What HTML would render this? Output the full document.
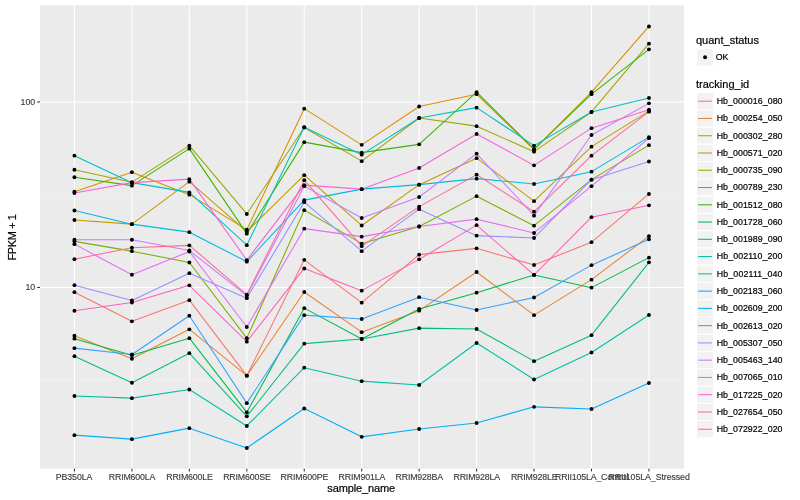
<!DOCTYPE html><html><head><meta charset="utf-8"><title>plot</title><style>html,body{margin:0;padding:0;background:#fff}svg{display:block;will-change:transform}text{font-family:"Liberation Sans",sans-serif}.k{stroke:#000;stroke-width:.2px}.a text{stroke:#3d3d3d;stroke-width:.15px}</style></head><body>
<svg width="800" height="500" viewBox="0 0 800 500">
<rect x="0" y="0" width="800" height="500" fill="#fff"/>
<rect x="40.0" y="5.3" width="644.0" height="463.4" fill="#EBEBEB"/>
<line x1="40.0" x2="684.0" y1="9.2" y2="9.2" stroke="#F2F2F2" stroke-width="0.6"/>
<line x1="40.0" x2="684.0" y1="194.55" y2="194.55" stroke="#F2F2F2" stroke-width="0.6"/>
<line x1="40.0" x2="684.0" y1="380.1" y2="380.1" stroke="#F2F2F2" stroke-width="0.6"/>
<line x1="40.0" x2="684.0" y1="102.0" y2="102.0" stroke="#fff" stroke-width="1.07"/>
<line x1="40.0" x2="684.0" y1="287.45" y2="287.45" stroke="#fff" stroke-width="1.07"/>
<line x1="74.45" x2="74.45" y1="5.3" y2="468.7" stroke="#fff" stroke-width="1.07"/>
<line x1="131.90" x2="131.90" y1="5.3" y2="468.7" stroke="#fff" stroke-width="1.07"/>
<line x1="189.35" x2="189.35" y1="5.3" y2="468.7" stroke="#fff" stroke-width="1.07"/>
<line x1="246.80" x2="246.80" y1="5.3" y2="468.7" stroke="#fff" stroke-width="1.07"/>
<line x1="304.25" x2="304.25" y1="5.3" y2="468.7" stroke="#fff" stroke-width="1.07"/>
<line x1="361.70" x2="361.70" y1="5.3" y2="468.7" stroke="#fff" stroke-width="1.07"/>
<line x1="419.15" x2="419.15" y1="5.3" y2="468.7" stroke="#fff" stroke-width="1.07"/>
<line x1="476.60" x2="476.60" y1="5.3" y2="468.7" stroke="#fff" stroke-width="1.07"/>
<line x1="534.05" x2="534.05" y1="5.3" y2="468.7" stroke="#fff" stroke-width="1.07"/>
<line x1="591.50" x2="591.50" y1="5.3" y2="468.7" stroke="#fff" stroke-width="1.07"/>
<line x1="648.95" x2="648.95" y1="5.3" y2="468.7" stroke="#fff" stroke-width="1.07"/>
<polyline points="74.45,292.15 131.90,321.35 189.35,300.15 246.80,375.65 304.25,259.85 361.70,302.65 419.15,254.65 476.60,248.35 534.05,264.95 591.50,242.15 648.95,193.95" fill="none" stroke="#F8766D" stroke-width="1.07" stroke-linejoin="round"/>
<polyline points="74.45,335.75 131.90,358.75 189.35,329.35 246.80,375.65 304.25,291.95 361.70,332.15 419.15,310.65 476.60,271.95 534.05,315.15 591.50,279.65 648.95,236.15" fill="none" stroke="#EA8331" stroke-width="1.07" stroke-linejoin="round"/>
<polyline points="74.45,191.65 131.90,172.15 189.35,194.65 246.80,229.65 304.25,108.65 361.70,144.85 419.15,106.45 476.60,94.15 534.05,149.65 591.50,92.15 648.95,26.45" fill="none" stroke="#D89000" stroke-width="1.07" stroke-linejoin="round"/>
<polyline points="74.45,219.95 131.90,224.15 189.35,181.65 246.80,231.65 304.25,175.15 361.70,225.45 419.15,184.65 476.60,158.15 534.05,201.15 591.50,146.65 648.95,111.15" fill="none" stroke="#C09B00" stroke-width="1.07" stroke-linejoin="round"/>
<polyline points="74.45,169.75 131.90,182.15 189.35,145.65 246.80,213.95 304.25,127.45 361.70,161.15 419.15,117.95 476.60,126.15 534.05,151.65 591.50,111.95 648.95,43.65" fill="none" stroke="#A3A500" stroke-width="1.07" stroke-linejoin="round"/>
<polyline points="74.45,241.35 131.90,251.15 189.35,262.55 246.80,338.15 304.25,210.15 361.70,243.65 419.15,226.45 476.60,196.15 534.05,225.65 591.50,179.65 648.95,145.15" fill="none" stroke="#7CAE00" stroke-width="1.07" stroke-linejoin="round"/>
<polyline points="74.45,177.25 131.90,185.65 189.35,148.65 246.80,233.65 304.25,142.15 361.70,152.65 419.15,144.35 476.60,92.15 534.05,149.15 591.50,94.15 648.95,49.35" fill="none" stroke="#39B600" stroke-width="1.07" stroke-linejoin="round"/>
<polyline points="74.45,338.65 131.90,355.15 189.35,338.15 246.80,412.35 304.25,308.15 361.70,338.95 419.15,308.95 476.60,292.65 534.05,274.95 591.50,287.65 648.95,257.65" fill="none" stroke="#00BB4E" stroke-width="1.07" stroke-linejoin="round"/>
<polyline points="74.45,356.15 131.90,382.75 189.35,353.15 246.80,416.35 304.25,343.65 361.70,338.95 419.15,328.15 476.60,328.95 534.05,361.15 591.50,335.15 648.95,262.35" fill="none" stroke="#00BF7D" stroke-width="1.07" stroke-linejoin="round"/>
<polyline points="74.45,396.05 131.90,398.15 189.35,389.55 246.80,425.95 304.25,367.65 361.70,381.15 419.15,384.95 476.60,342.95 534.05,379.45 591.50,352.45 648.95,314.95" fill="none" stroke="#00C1A3" stroke-width="1.07" stroke-linejoin="round"/>
<polyline points="74.45,155.65 131.90,182.65 189.35,192.35 246.80,245.15 304.25,127.15 361.70,154.65 419.15,117.95 476.60,107.65 534.05,145.65 591.50,111.95 648.95,97.95" fill="none" stroke="#00BFC4" stroke-width="1.07" stroke-linejoin="round"/>
<polyline points="74.45,210.55 131.90,224.15 189.35,232.15 246.80,261.65 304.25,200.15 361.70,189.15 419.15,184.65 476.60,178.65 534.05,183.95 591.50,171.65 648.95,137.15" fill="none" stroke="#00BAE0" stroke-width="1.07" stroke-linejoin="round"/>
<polyline points="74.45,435.15 131.90,439.15 189.35,428.15 246.80,447.95 304.25,408.45 361.70,436.85 419.15,428.95 476.60,422.95 534.05,406.85 591.50,408.95 648.95,382.95" fill="none" stroke="#00B0F6" stroke-width="1.07" stroke-linejoin="round"/>
<polyline points="74.45,348.15 131.90,354.55 189.35,315.75 246.80,403.15 304.25,315.15 361.70,318.95 419.15,297.15 476.60,309.95 534.05,297.45 591.50,265.15 648.95,239.35" fill="none" stroke="#35A2FF" stroke-width="1.07" stroke-linejoin="round"/>
<polyline points="74.45,285.15 131.90,300.55 189.35,273.15 246.80,298.15 304.25,202.15 361.70,251.15 419.15,209.15 476.60,235.65 534.05,237.95 591.50,179.65 648.95,161.45" fill="none" stroke="#9590FF" stroke-width="1.07" stroke-linejoin="round"/>
<polyline points="74.45,239.75 131.90,239.75 189.35,250.55 246.80,295.65 304.25,186.15 361.70,217.95 419.15,196.95 476.60,153.65 534.05,215.65 591.50,134.95 648.95,103.35" fill="none" stroke="#C77CFF" stroke-width="1.07" stroke-linejoin="round"/>
<polyline points="74.45,244.15 131.90,274.75 189.35,251.55 246.80,326.95 304.25,228.65 361.70,236.65 419.15,226.45 476.60,219.15 534.05,232.95 591.50,186.15 648.95,138.15" fill="none" stroke="#E76BF3" stroke-width="1.07" stroke-linejoin="round"/>
<polyline points="74.45,192.95 131.90,182.65 189.35,179.15 246.80,260.15 304.25,185.15 361.70,189.15 419.15,167.95 476.60,133.95 534.05,165.35 591.50,128.15 648.95,109.65" fill="none" stroke="#FA62DB" stroke-width="1.07" stroke-linejoin="round"/>
<polyline points="74.45,310.75 131.90,302.55 189.35,285.35 246.80,341.65 304.25,268.45 361.70,290.65 419.15,259.35 476.60,225.15 534.05,274.95 591.50,217.15 648.95,205.35" fill="none" stroke="#FF62BC" stroke-width="1.07" stroke-linejoin="round"/>
<polyline points="74.45,259.15 131.90,247.75 189.35,245.35 246.80,294.65 304.25,180.15 361.70,246.15 419.15,206.65 476.60,174.65 534.05,211.65 591.50,155.65 648.95,111.65" fill="none" stroke="#FF6A98" stroke-width="1.07" stroke-linejoin="round"/>
<g fill="#000">
<circle cx="74.45" cy="292.15" r="1.95"/>
<circle cx="131.90" cy="321.35" r="1.95"/>
<circle cx="189.35" cy="300.15" r="1.95"/>
<circle cx="246.80" cy="375.65" r="1.95"/>
<circle cx="304.25" cy="259.85" r="1.95"/>
<circle cx="361.70" cy="302.65" r="1.95"/>
<circle cx="419.15" cy="254.65" r="1.95"/>
<circle cx="476.60" cy="248.35" r="1.95"/>
<circle cx="534.05" cy="264.95" r="1.95"/>
<circle cx="591.50" cy="242.15" r="1.95"/>
<circle cx="648.95" cy="193.95" r="1.95"/>
<circle cx="74.45" cy="335.75" r="1.95"/>
<circle cx="131.90" cy="358.75" r="1.95"/>
<circle cx="189.35" cy="329.35" r="1.95"/>
<circle cx="246.80" cy="375.65" r="1.95"/>
<circle cx="304.25" cy="291.95" r="1.95"/>
<circle cx="361.70" cy="332.15" r="1.95"/>
<circle cx="419.15" cy="310.65" r="1.95"/>
<circle cx="476.60" cy="271.95" r="1.95"/>
<circle cx="534.05" cy="315.15" r="1.95"/>
<circle cx="591.50" cy="279.65" r="1.95"/>
<circle cx="648.95" cy="236.15" r="1.95"/>
<circle cx="74.45" cy="191.65" r="1.95"/>
<circle cx="131.90" cy="172.15" r="1.95"/>
<circle cx="189.35" cy="194.65" r="1.95"/>
<circle cx="246.80" cy="229.65" r="1.95"/>
<circle cx="304.25" cy="108.65" r="1.95"/>
<circle cx="361.70" cy="144.85" r="1.95"/>
<circle cx="419.15" cy="106.45" r="1.95"/>
<circle cx="476.60" cy="94.15" r="1.95"/>
<circle cx="534.05" cy="149.65" r="1.95"/>
<circle cx="591.50" cy="92.15" r="1.95"/>
<circle cx="648.95" cy="26.45" r="1.95"/>
<circle cx="74.45" cy="219.95" r="1.95"/>
<circle cx="131.90" cy="224.15" r="1.95"/>
<circle cx="189.35" cy="181.65" r="1.95"/>
<circle cx="246.80" cy="231.65" r="1.95"/>
<circle cx="304.25" cy="175.15" r="1.95"/>
<circle cx="361.70" cy="225.45" r="1.95"/>
<circle cx="419.15" cy="184.65" r="1.95"/>
<circle cx="476.60" cy="158.15" r="1.95"/>
<circle cx="534.05" cy="201.15" r="1.95"/>
<circle cx="591.50" cy="146.65" r="1.95"/>
<circle cx="648.95" cy="111.15" r="1.95"/>
<circle cx="74.45" cy="169.75" r="1.95"/>
<circle cx="131.90" cy="182.15" r="1.95"/>
<circle cx="189.35" cy="145.65" r="1.95"/>
<circle cx="246.80" cy="213.95" r="1.95"/>
<circle cx="304.25" cy="127.45" r="1.95"/>
<circle cx="361.70" cy="161.15" r="1.95"/>
<circle cx="419.15" cy="117.95" r="1.95"/>
<circle cx="476.60" cy="126.15" r="1.95"/>
<circle cx="534.05" cy="151.65" r="1.95"/>
<circle cx="591.50" cy="111.95" r="1.95"/>
<circle cx="648.95" cy="43.65" r="1.95"/>
<circle cx="74.45" cy="241.35" r="1.95"/>
<circle cx="131.90" cy="251.15" r="1.95"/>
<circle cx="189.35" cy="262.55" r="1.95"/>
<circle cx="246.80" cy="338.15" r="1.95"/>
<circle cx="304.25" cy="210.15" r="1.95"/>
<circle cx="361.70" cy="243.65" r="1.95"/>
<circle cx="419.15" cy="226.45" r="1.95"/>
<circle cx="476.60" cy="196.15" r="1.95"/>
<circle cx="534.05" cy="225.65" r="1.95"/>
<circle cx="591.50" cy="179.65" r="1.95"/>
<circle cx="648.95" cy="145.15" r="1.95"/>
<circle cx="74.45" cy="177.25" r="1.95"/>
<circle cx="131.90" cy="185.65" r="1.95"/>
<circle cx="189.35" cy="148.65" r="1.95"/>
<circle cx="246.80" cy="233.65" r="1.95"/>
<circle cx="304.25" cy="142.15" r="1.95"/>
<circle cx="361.70" cy="152.65" r="1.95"/>
<circle cx="419.15" cy="144.35" r="1.95"/>
<circle cx="476.60" cy="92.15" r="1.95"/>
<circle cx="534.05" cy="149.15" r="1.95"/>
<circle cx="591.50" cy="94.15" r="1.95"/>
<circle cx="648.95" cy="49.35" r="1.95"/>
<circle cx="74.45" cy="338.65" r="1.95"/>
<circle cx="131.90" cy="355.15" r="1.95"/>
<circle cx="189.35" cy="338.15" r="1.95"/>
<circle cx="246.80" cy="412.35" r="1.95"/>
<circle cx="304.25" cy="308.15" r="1.95"/>
<circle cx="361.70" cy="338.95" r="1.95"/>
<circle cx="419.15" cy="308.95" r="1.95"/>
<circle cx="476.60" cy="292.65" r="1.95"/>
<circle cx="534.05" cy="274.95" r="1.95"/>
<circle cx="591.50" cy="287.65" r="1.95"/>
<circle cx="648.95" cy="257.65" r="1.95"/>
<circle cx="74.45" cy="356.15" r="1.95"/>
<circle cx="131.90" cy="382.75" r="1.95"/>
<circle cx="189.35" cy="353.15" r="1.95"/>
<circle cx="246.80" cy="416.35" r="1.95"/>
<circle cx="304.25" cy="343.65" r="1.95"/>
<circle cx="361.70" cy="338.95" r="1.95"/>
<circle cx="419.15" cy="328.15" r="1.95"/>
<circle cx="476.60" cy="328.95" r="1.95"/>
<circle cx="534.05" cy="361.15" r="1.95"/>
<circle cx="591.50" cy="335.15" r="1.95"/>
<circle cx="648.95" cy="262.35" r="1.95"/>
<circle cx="74.45" cy="396.05" r="1.95"/>
<circle cx="131.90" cy="398.15" r="1.95"/>
<circle cx="189.35" cy="389.55" r="1.95"/>
<circle cx="246.80" cy="425.95" r="1.95"/>
<circle cx="304.25" cy="367.65" r="1.95"/>
<circle cx="361.70" cy="381.15" r="1.95"/>
<circle cx="419.15" cy="384.95" r="1.95"/>
<circle cx="476.60" cy="342.95" r="1.95"/>
<circle cx="534.05" cy="379.45" r="1.95"/>
<circle cx="591.50" cy="352.45" r="1.95"/>
<circle cx="648.95" cy="314.95" r="1.95"/>
<circle cx="74.45" cy="155.65" r="1.95"/>
<circle cx="131.90" cy="182.65" r="1.95"/>
<circle cx="189.35" cy="192.35" r="1.95"/>
<circle cx="246.80" cy="245.15" r="1.95"/>
<circle cx="304.25" cy="127.15" r="1.95"/>
<circle cx="361.70" cy="154.65" r="1.95"/>
<circle cx="419.15" cy="117.95" r="1.95"/>
<circle cx="476.60" cy="107.65" r="1.95"/>
<circle cx="534.05" cy="145.65" r="1.95"/>
<circle cx="591.50" cy="111.95" r="1.95"/>
<circle cx="648.95" cy="97.95" r="1.95"/>
<circle cx="74.45" cy="210.55" r="1.95"/>
<circle cx="131.90" cy="224.15" r="1.95"/>
<circle cx="189.35" cy="232.15" r="1.95"/>
<circle cx="246.80" cy="261.65" r="1.95"/>
<circle cx="304.25" cy="200.15" r="1.95"/>
<circle cx="361.70" cy="189.15" r="1.95"/>
<circle cx="419.15" cy="184.65" r="1.95"/>
<circle cx="476.60" cy="178.65" r="1.95"/>
<circle cx="534.05" cy="183.95" r="1.95"/>
<circle cx="591.50" cy="171.65" r="1.95"/>
<circle cx="648.95" cy="137.15" r="1.95"/>
<circle cx="74.45" cy="435.15" r="1.95"/>
<circle cx="131.90" cy="439.15" r="1.95"/>
<circle cx="189.35" cy="428.15" r="1.95"/>
<circle cx="246.80" cy="447.95" r="1.95"/>
<circle cx="304.25" cy="408.45" r="1.95"/>
<circle cx="361.70" cy="436.85" r="1.95"/>
<circle cx="419.15" cy="428.95" r="1.95"/>
<circle cx="476.60" cy="422.95" r="1.95"/>
<circle cx="534.05" cy="406.85" r="1.95"/>
<circle cx="591.50" cy="408.95" r="1.95"/>
<circle cx="648.95" cy="382.95" r="1.95"/>
<circle cx="74.45" cy="348.15" r="1.95"/>
<circle cx="131.90" cy="354.55" r="1.95"/>
<circle cx="189.35" cy="315.75" r="1.95"/>
<circle cx="246.80" cy="403.15" r="1.95"/>
<circle cx="304.25" cy="315.15" r="1.95"/>
<circle cx="361.70" cy="318.95" r="1.95"/>
<circle cx="419.15" cy="297.15" r="1.95"/>
<circle cx="476.60" cy="309.95" r="1.95"/>
<circle cx="534.05" cy="297.45" r="1.95"/>
<circle cx="591.50" cy="265.15" r="1.95"/>
<circle cx="648.95" cy="239.35" r="1.95"/>
<circle cx="74.45" cy="285.15" r="1.95"/>
<circle cx="131.90" cy="300.55" r="1.95"/>
<circle cx="189.35" cy="273.15" r="1.95"/>
<circle cx="246.80" cy="298.15" r="1.95"/>
<circle cx="304.25" cy="202.15" r="1.95"/>
<circle cx="361.70" cy="251.15" r="1.95"/>
<circle cx="419.15" cy="209.15" r="1.95"/>
<circle cx="476.60" cy="235.65" r="1.95"/>
<circle cx="534.05" cy="237.95" r="1.95"/>
<circle cx="591.50" cy="179.65" r="1.95"/>
<circle cx="648.95" cy="161.45" r="1.95"/>
<circle cx="74.45" cy="239.75" r="1.95"/>
<circle cx="131.90" cy="239.75" r="1.95"/>
<circle cx="189.35" cy="250.55" r="1.95"/>
<circle cx="246.80" cy="295.65" r="1.95"/>
<circle cx="304.25" cy="186.15" r="1.95"/>
<circle cx="361.70" cy="217.95" r="1.95"/>
<circle cx="419.15" cy="196.95" r="1.95"/>
<circle cx="476.60" cy="153.65" r="1.95"/>
<circle cx="534.05" cy="215.65" r="1.95"/>
<circle cx="591.50" cy="134.95" r="1.95"/>
<circle cx="648.95" cy="103.35" r="1.95"/>
<circle cx="74.45" cy="244.15" r="1.95"/>
<circle cx="131.90" cy="274.75" r="1.95"/>
<circle cx="189.35" cy="251.55" r="1.95"/>
<circle cx="246.80" cy="326.95" r="1.95"/>
<circle cx="304.25" cy="228.65" r="1.95"/>
<circle cx="361.70" cy="236.65" r="1.95"/>
<circle cx="419.15" cy="226.45" r="1.95"/>
<circle cx="476.60" cy="219.15" r="1.95"/>
<circle cx="534.05" cy="232.95" r="1.95"/>
<circle cx="591.50" cy="186.15" r="1.95"/>
<circle cx="648.95" cy="138.15" r="1.95"/>
<circle cx="74.45" cy="192.95" r="1.95"/>
<circle cx="131.90" cy="182.65" r="1.95"/>
<circle cx="189.35" cy="179.15" r="1.95"/>
<circle cx="246.80" cy="260.15" r="1.95"/>
<circle cx="304.25" cy="185.15" r="1.95"/>
<circle cx="361.70" cy="189.15" r="1.95"/>
<circle cx="419.15" cy="167.95" r="1.95"/>
<circle cx="476.60" cy="133.95" r="1.95"/>
<circle cx="534.05" cy="165.35" r="1.95"/>
<circle cx="591.50" cy="128.15" r="1.95"/>
<circle cx="648.95" cy="109.65" r="1.95"/>
<circle cx="74.45" cy="310.75" r="1.95"/>
<circle cx="131.90" cy="302.55" r="1.95"/>
<circle cx="189.35" cy="285.35" r="1.95"/>
<circle cx="246.80" cy="341.65" r="1.95"/>
<circle cx="304.25" cy="268.45" r="1.95"/>
<circle cx="361.70" cy="290.65" r="1.95"/>
<circle cx="419.15" cy="259.35" r="1.95"/>
<circle cx="476.60" cy="225.15" r="1.95"/>
<circle cx="534.05" cy="274.95" r="1.95"/>
<circle cx="591.50" cy="217.15" r="1.95"/>
<circle cx="648.95" cy="205.35" r="1.95"/>
<circle cx="74.45" cy="259.15" r="1.95"/>
<circle cx="131.90" cy="247.75" r="1.95"/>
<circle cx="189.35" cy="245.35" r="1.95"/>
<circle cx="246.80" cy="294.65" r="1.95"/>
<circle cx="304.25" cy="180.15" r="1.95"/>
<circle cx="361.70" cy="246.15" r="1.95"/>
<circle cx="419.15" cy="206.65" r="1.95"/>
<circle cx="476.60" cy="174.65" r="1.95"/>
<circle cx="534.05" cy="211.65" r="1.95"/>
<circle cx="591.50" cy="155.65" r="1.95"/>
<circle cx="648.95" cy="111.65" r="1.95"/>
</g>
<g stroke="#333" stroke-width="1.07">
<line x1="37.2" x2="40.0" y1="102.0" y2="102.0"/>
<line x1="37.2" x2="40.0" y1="287.45" y2="287.45"/>
<line x1="74.45" x2="74.45" y1="468.7" y2="471.4"/>
<line x1="131.90" x2="131.90" y1="468.7" y2="471.4"/>
<line x1="189.35" x2="189.35" y1="468.7" y2="471.4"/>
<line x1="246.80" x2="246.80" y1="468.7" y2="471.4"/>
<line x1="304.25" x2="304.25" y1="468.7" y2="471.4"/>
<line x1="361.70" x2="361.70" y1="468.7" y2="471.4"/>
<line x1="419.15" x2="419.15" y1="468.7" y2="471.4"/>
<line x1="476.60" x2="476.60" y1="468.7" y2="471.4"/>
<line x1="534.05" x2="534.05" y1="468.7" y2="471.4"/>
<line x1="591.50" x2="591.50" y1="468.7" y2="471.4"/>
<line x1="648.95" x2="648.95" y1="468.7" y2="471.4"/>
</g>
<g class="a" fill="#3d3d3d" font-size="8.8">
<text x="35.2" y="105.0" text-anchor="end">100</text>
<text x="35.2" y="290.45" text-anchor="end">10</text>
<text x="55.71" y="479.8" textLength="36.69" lengthAdjust="spacing">PB350LA</text>
<text x="108.74" y="479.8" textLength="46.72" lengthAdjust="spacing">RRIM600LA</text>
<text x="166.19" y="479.8" textLength="46.72" lengthAdjust="spacing">RRIM600LE</text>
<text x="223.16" y="479.8" textLength="47.69" lengthAdjust="spacing">RRIM600SE</text>
<text x="280.61" y="479.8" textLength="47.69" lengthAdjust="spacing">RRIM600PE</text>
<text x="338.54" y="479.8" textLength="46.72" lengthAdjust="spacing">RRIM901LA</text>
<text x="395.50" y="479.8" textLength="47.69" lengthAdjust="spacing">RRIM928BA</text>
<text x="453.44" y="479.8" textLength="46.72" lengthAdjust="spacing">RRIM928LA</text>
<text x="510.89" y="479.8" textLength="46.72" lengthAdjust="spacing">RRIM928LE</text>
<text x="554.96" y="479.8" textLength="73.48" lengthAdjust="spacing">RRII105LA_Control</text>
<text x="608.48" y="479.8" textLength="81.34" lengthAdjust="spacing">RRII105LA_Stressed</text>
</g>
<text class="k" x="327.3" y="491.8" font-size="11" textLength="67.9" lengthAdjust="spacing" fill="#000">sample_name</text>
<text class="k" transform="translate(15.9,260.6) rotate(-90)" font-size="11" textLength="46.6" lengthAdjust="spacing" fill="#000">FPKM + 1</text>
<text class="k" x="696" y="43.7" font-size="11" fill="#000">quant_status</text>
<rect x="696.4" y="48.7" width="17.28" height="17.28" fill="#F2F2F2" stroke="#fff" stroke-width="1.07"/>
<circle cx="705.04" cy="57.2" r="2.0" fill="#000"/>
<text class="k" x="715.7" y="60.2" font-size="8.8" fill="#000">OK</text>
<text class="k" x="696" y="87.7" font-size="11" fill="#000">tracking_id</text>
<rect x="696.4" y="92.57" width="17.28" height="17.265" fill="#F2F2F2" stroke="#fff" stroke-width="1.07"/>
<line x1="698.13" x2="711.95" y1="101.20" y2="101.20" stroke="#F8766D" stroke-width="1.07"/>
<text class="k" x="716.7" y="104.10" font-size="8.8" fill="#000" textLength="65.8" lengthAdjust="spacing">Hb_000016_080</text>
<rect x="696.4" y="109.83" width="17.28" height="17.265" fill="#F2F2F2" stroke="#fff" stroke-width="1.07"/>
<line x1="698.13" x2="711.95" y1="118.47" y2="118.47" stroke="#EA8331" stroke-width="1.07"/>
<text class="k" x="716.7" y="121.37" font-size="8.8" fill="#000" textLength="65.8" lengthAdjust="spacing">Hb_000254_050</text>
<rect x="696.4" y="127.10" width="17.28" height="17.265" fill="#F2F2F2" stroke="#fff" stroke-width="1.07"/>
<line x1="698.13" x2="711.95" y1="135.73" y2="135.73" stroke="#D89000" stroke-width="1.07"/>
<text class="k" x="716.7" y="138.63" font-size="8.8" fill="#000" textLength="65.8" lengthAdjust="spacing">Hb_000302_280</text>
<rect x="696.4" y="144.36" width="17.28" height="17.265" fill="#F2F2F2" stroke="#fff" stroke-width="1.07"/>
<line x1="698.13" x2="711.95" y1="153.00" y2="153.00" stroke="#C09B00" stroke-width="1.07"/>
<text class="k" x="716.7" y="155.90" font-size="8.8" fill="#000" textLength="65.8" lengthAdjust="spacing">Hb_000571_020</text>
<rect x="696.4" y="161.63" width="17.28" height="17.265" fill="#F2F2F2" stroke="#fff" stroke-width="1.07"/>
<line x1="698.13" x2="711.95" y1="170.26" y2="170.26" stroke="#A3A500" stroke-width="1.07"/>
<text class="k" x="716.7" y="173.16" font-size="8.8" fill="#000" textLength="65.8" lengthAdjust="spacing">Hb_000735_090</text>
<rect x="696.4" y="178.89" width="17.28" height="17.265" fill="#F2F2F2" stroke="#fff" stroke-width="1.07"/>
<line x1="698.13" x2="711.95" y1="187.53" y2="187.53" stroke="#7CAE00" stroke-width="1.07"/>
<text class="k" x="716.7" y="190.43" font-size="8.8" fill="#000" textLength="65.8" lengthAdjust="spacing">Hb_000789_230</text>
<rect x="696.4" y="196.16" width="17.28" height="17.265" fill="#F2F2F2" stroke="#fff" stroke-width="1.07"/>
<line x1="698.13" x2="711.95" y1="204.79" y2="204.79" stroke="#39B600" stroke-width="1.07"/>
<text class="k" x="716.7" y="207.69" font-size="8.8" fill="#000" textLength="65.8" lengthAdjust="spacing">Hb_001512_080</text>
<rect x="696.4" y="213.42" width="17.28" height="17.265" fill="#F2F2F2" stroke="#fff" stroke-width="1.07"/>
<line x1="698.13" x2="711.95" y1="222.06" y2="222.06" stroke="#00BB4E" stroke-width="1.07"/>
<text class="k" x="716.7" y="224.96" font-size="8.8" fill="#000" textLength="65.8" lengthAdjust="spacing">Hb_001728_060</text>
<rect x="696.4" y="230.69" width="17.28" height="17.265" fill="#F2F2F2" stroke="#fff" stroke-width="1.07"/>
<line x1="698.13" x2="711.95" y1="239.32" y2="239.32" stroke="#00BF7D" stroke-width="1.07"/>
<text class="k" x="716.7" y="242.22" font-size="8.8" fill="#000" textLength="65.8" lengthAdjust="spacing">Hb_001989_090</text>
<rect x="696.4" y="247.95" width="17.28" height="17.265" fill="#F2F2F2" stroke="#fff" stroke-width="1.07"/>
<line x1="698.13" x2="711.95" y1="256.58" y2="256.58" stroke="#00C1A3" stroke-width="1.07"/>
<text class="k" x="716.7" y="259.48" font-size="8.8" fill="#000" textLength="65.8" lengthAdjust="spacing">Hb_002110_200</text>
<rect x="696.4" y="265.22" width="17.28" height="17.265" fill="#F2F2F2" stroke="#fff" stroke-width="1.07"/>
<line x1="698.13" x2="711.95" y1="273.85" y2="273.85" stroke="#00BFC4" stroke-width="1.07"/>
<text class="k" x="716.7" y="276.75" font-size="8.8" fill="#000" textLength="65.8" lengthAdjust="spacing">Hb_002111_040</text>
<rect x="696.4" y="282.48" width="17.28" height="17.265" fill="#F2F2F2" stroke="#fff" stroke-width="1.07"/>
<line x1="698.13" x2="711.95" y1="291.12" y2="291.12" stroke="#00BAE0" stroke-width="1.07"/>
<text class="k" x="716.7" y="294.01" font-size="8.8" fill="#000" textLength="65.8" lengthAdjust="spacing">Hb_002183_060</text>
<rect x="696.4" y="299.75" width="17.28" height="17.265" fill="#F2F2F2" stroke="#fff" stroke-width="1.07"/>
<line x1="698.13" x2="711.95" y1="308.38" y2="308.38" stroke="#00B0F6" stroke-width="1.07"/>
<text class="k" x="716.7" y="311.28" font-size="8.8" fill="#000" textLength="65.8" lengthAdjust="spacing">Hb_002609_200</text>
<rect x="696.4" y="317.01" width="17.28" height="17.265" fill="#F2F2F2" stroke="#fff" stroke-width="1.07"/>
<line x1="698.13" x2="711.95" y1="325.64" y2="325.64" stroke="#35A2FF" stroke-width="1.07"/>
<text class="k" x="716.7" y="328.54" font-size="8.8" fill="#000" textLength="65.8" lengthAdjust="spacing">Hb_002613_020</text>
<rect x="696.4" y="334.28" width="17.28" height="17.265" fill="#F2F2F2" stroke="#fff" stroke-width="1.07"/>
<line x1="698.13" x2="711.95" y1="342.91" y2="342.91" stroke="#9590FF" stroke-width="1.07"/>
<text class="k" x="716.7" y="345.81" font-size="8.8" fill="#000" textLength="65.8" lengthAdjust="spacing">Hb_005307_050</text>
<rect x="696.4" y="351.54" width="17.28" height="17.265" fill="#F2F2F2" stroke="#fff" stroke-width="1.07"/>
<line x1="698.13" x2="711.95" y1="360.18" y2="360.18" stroke="#C77CFF" stroke-width="1.07"/>
<text class="k" x="716.7" y="363.07" font-size="8.8" fill="#000" textLength="65.8" lengthAdjust="spacing">Hb_005463_140</text>
<rect x="696.4" y="368.81" width="17.28" height="17.265" fill="#F2F2F2" stroke="#fff" stroke-width="1.07"/>
<line x1="698.13" x2="711.95" y1="377.44" y2="377.44" stroke="#E76BF3" stroke-width="1.07"/>
<text class="k" x="716.7" y="380.34" font-size="8.8" fill="#000" textLength="65.8" lengthAdjust="spacing">Hb_007065_010</text>
<rect x="696.4" y="386.07" width="17.28" height="17.265" fill="#F2F2F2" stroke="#fff" stroke-width="1.07"/>
<line x1="698.13" x2="711.95" y1="394.70" y2="394.70" stroke="#FA62DB" stroke-width="1.07"/>
<text class="k" x="716.7" y="397.60" font-size="8.8" fill="#000" textLength="65.8" lengthAdjust="spacing">Hb_017225_020</text>
<rect x="696.4" y="403.34" width="17.28" height="17.265" fill="#F2F2F2" stroke="#fff" stroke-width="1.07"/>
<line x1="698.13" x2="711.95" y1="411.97" y2="411.97" stroke="#FF62BC" stroke-width="1.07"/>
<text class="k" x="716.7" y="414.87" font-size="8.8" fill="#000" textLength="65.8" lengthAdjust="spacing">Hb_027654_050</text>
<rect x="696.4" y="420.60" width="17.28" height="17.265" fill="#F2F2F2" stroke="#fff" stroke-width="1.07"/>
<line x1="698.13" x2="711.95" y1="429.24" y2="429.24" stroke="#FF6A98" stroke-width="1.07"/>
<text class="k" x="716.7" y="432.13" font-size="8.8" fill="#000" textLength="65.8" lengthAdjust="spacing">Hb_072922_020</text>
</svg></body></html>
